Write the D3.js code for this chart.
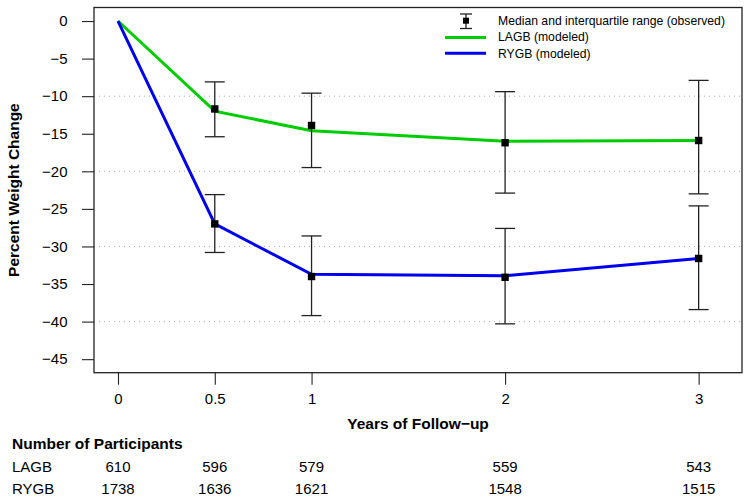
<!DOCTYPE html>
<html>
<head>
<meta charset="utf-8">
<script src="https://cdn.jsdelivr.net/npm/d3@7"></script>
<style>
  body { margin: 0; background: #fff; }
  svg { display: block; font-family: "Liberation Sans", Arial, Helvetica, sans-serif; }
  .axis text { font-size: 15px; fill: #000; }
  .axis line { stroke: #222; stroke-width: 1.1; }
</style>
</head>
<body>
<svg id="chart" width="751" height="503"></svg>
<script>
// observed medians and interquartile ranges
var obsYears = [0.5, 1, 2, 3];
var lagbMedian = [-11.7, -13.9, -16.2, -15.9];
var lagbLow = [-15.4, -19.5, -22.9, -23.0];
var lagbHigh = [-8.1, -9.6, -9.4, -7.9];
var rygbMedian = [-27.0, -34.0, -34.1, -31.6];
var rygbLow = [-30.8, -39.2, -40.3, -38.4];
var rygbHigh = [-23.1, -28.6, -27.6, -24.6];

// modeled curves
var modelYears = [0, 0.5, 1, 2, 3];
var lagbModel = [0, -12.0, -14.6, -16.0, -15.9];
var rygbModel = [0, -27.0, -33.7, -33.9, -31.6];

// participants table
var countYears = [0, 0.5, 1, 2, 3];
var lagbCount = [610, 596, 579, 559, 543];
var rygbCount = [1738, 1636, 1621, 1548, 1515];

var xTicks = [0, 0.5, 1, 2, 3];
var yTicks = [0, -5, -10, -15, -20, -25, -30, -35, -40, -45];
var gridTicks = [-10, -20, -30, -40];

var svg = d3.select("#chart");
var plotLeft = 94, plotRight = 742, plotTop = 7.5, plotBottom = 372.7;

// R style 4% padding: xlim 0..3.1, ylim -45..0
var x = d3.scaleLinear().domain([-0.124, 3.224]).range([plotLeft, plotRight]);
var y = d3.scaleLinear().domain([1.8, -46.8]).range([plotTop, plotBottom]);

var fmt = function (d) { return String(d).replace("-", "\u2212"); };

// dotted grid
svg.append("g").selectAll("line")
    .data(gridTicks)
  .enter().append("line")
    .attr("x1", plotLeft).attr("x2", plotRight)
    .attr("y1", function (d) { return y(d); })
    .attr("y2", function (d) { return y(d); })
    .attr("stroke", "#aaa")
    .attr("stroke-width", 1)
    .attr("stroke-dasharray", "1,4");

// axes
var gy = svg.append("g")
    .attr("class", "axis")
    .attr("transform", "translate(" + plotLeft + ",0)")
    .call(d3.axisLeft(y).tickValues(yTicks).tickSize(12).tickPadding(14.5).tickFormat(fmt));
gy.select(".domain").remove();

var gx = svg.append("g")
    .attr("class", "axis")
    .attr("transform", "translate(0," + plotBottom + ")")
    .call(d3.axisBottom(x).tickValues(xTicks).tickSize(12).tickPadding(9).tickFormat(fmt));
gx.select(".domain").remove();

// plot box
svg.append("rect")
    .attr("x", plotLeft).attr("y", plotTop)
    .attr("width", plotRight - plotLeft).attr("height", plotBottom - plotTop)
    .attr("fill", "none")
    .attr("stroke", "#222")
    .attr("stroke-width", 1.3);

// modeled lines
var line = d3.line()
    .x(function (d) { return x(d[0]); })
    .y(function (d) { return y(d[1]); });

svg.append("path")
    .datum(d3.zip(modelYears, lagbModel))
    .attr("d", line)
    .attr("fill", "none")
    .attr("stroke", "#00cd00")
    .attr("stroke-width", 3);

svg.append("path")
    .datum(d3.zip(modelYears, rygbModel))
    .attr("d", line)
    .attr("fill", "none")
    .attr("stroke", "#0000ee")
    .attr("stroke-width", 3);

// error bars + medians
function drawObserved(med, lo, hi) {
    var g = svg.append("g");
    var rows = d3.zip(obsYears, med, lo, hi);
    var bars = g.selectAll("g").data(rows).enter().append("g");
    bars.append("line")
        .attr("x1", function (d) { return x(d[0]); })
        .attr("x2", function (d) { return x(d[0]); })
        .attr("y1", function (d) { return y(d[2]); })
        .attr("y2", function (d) { return y(d[3]); });
    bars.append("line")
        .attr("x1", function (d) { return x(d[0]) - 10; })
        .attr("x2", function (d) { return x(d[0]) + 10; })
        .attr("y1", function (d) { return y(d[2]); })
        .attr("y2", function (d) { return y(d[2]); });
    bars.append("line")
        .attr("x1", function (d) { return x(d[0]) - 10; })
        .attr("x2", function (d) { return x(d[0]) + 10; })
        .attr("y1", function (d) { return y(d[3]); })
        .attr("y2", function (d) { return y(d[3]); });
    bars.selectAll("line").attr("stroke", "#222").attr("stroke-width", 1.3);
    bars.append("rect")
        .attr("x", function (d) { return x(d[0]) - 3.7; })
        .attr("y", function (d) { return y(d[1]) - 3.7; })
        .attr("width", 7.4).attr("height", 7.4)
        .attr("fill", "#000");
}
drawObserved(lagbMedian, lagbLow, lagbHigh);
drawObserved(rygbMedian, rygbLow, rygbHigh);

// legend
var lg = svg.append("g");
var lx = 466;
lg.append("line").attr("x1", lx).attr("x2", lx).attr("y1", 14).attr("y2", 28.5).attr("stroke", "#222").attr("stroke-width", 1.3);
lg.append("line").attr("x1", lx - 6).attr("x2", lx + 6).attr("y1", 14).attr("y2", 14).attr("stroke", "#222").attr("stroke-width", 1.3);
lg.append("line").attr("x1", lx - 6).attr("x2", lx + 6).attr("y1", 28.5).attr("y2", 28.5).attr("stroke", "#222").attr("stroke-width", 1.3);
lg.append("rect").attr("x", lx - 3).attr("y", 17.7).attr("width", 6).attr("height", 6).attr("fill", "#000");
lg.append("line").attr("x1", 445).attr("x2", 486).attr("y1", 37.5).attr("y2", 37.5).attr("stroke", "#00cd00").attr("stroke-width", 3);
lg.append("line").attr("x1", 445).attr("x2", 486).attr("y1", 53.3).attr("y2", 53.3).attr("stroke", "#0000ee").attr("stroke-width", 3);
var legendText = ["Median and interquartile range (observed)", "LAGB (modeled)", "RYGB (modeled)"];
lg.selectAll("text").data(legendText).enter().append("text")
    .attr("x", 498)
    .attr("y", function (d, i) { return 20.7 + i * 16.3; })
    .attr("dy", "0.35em")
    .attr("font-size", "12.2px")
    .text(function (d) { return d; });

// axis titles
svg.append("text")
    .attr("transform", "translate(19," + ((plotTop + plotBottom) / 2) + ") rotate(-90)")
    .attr("text-anchor", "middle")
    .attr("font-size", "15.5px")
    .attr("font-weight", "bold")
    .text("Percent Weight Change");

svg.append("text")
    .attr("x", (plotLeft + plotRight) / 2)
    .attr("y", 424)
    .attr("dy", "0.35em")
    .attr("text-anchor", "middle")
    .attr("font-size", "15.5px")
    .attr("font-weight", "bold")
    .text("Years of Follow\u2212up");

// participants table
svg.append("text")
    .attr("x", 12).attr("y", 444).attr("dy", "0.35em")
    .attr("font-size", "15.5px")
    .attr("font-weight", "bold")
    .text("Number of Participants");

var rows = [["LAGB", lagbCount, 467], ["RYGB", rygbCount, 489]];
rows.forEach(function (r) {
    svg.append("text")
        .attr("x", 12).attr("y", r[2]).attr("dy", "0.35em")
        .attr("font-size", "15px")
        .text(r[0]);
    svg.append("g").selectAll("text")
        .data(d3.zip(countYears, r[1]))
      .enter().append("text")
        .attr("x", function (d) { return x(d[0]); })
        .attr("y", r[2])
        .attr("dy", "0.35em")
        .attr("text-anchor", "middle")
        .attr("font-size", "15px")
        .text(function (d) { return d[1]; });
});
</script>
</body>
</html>
